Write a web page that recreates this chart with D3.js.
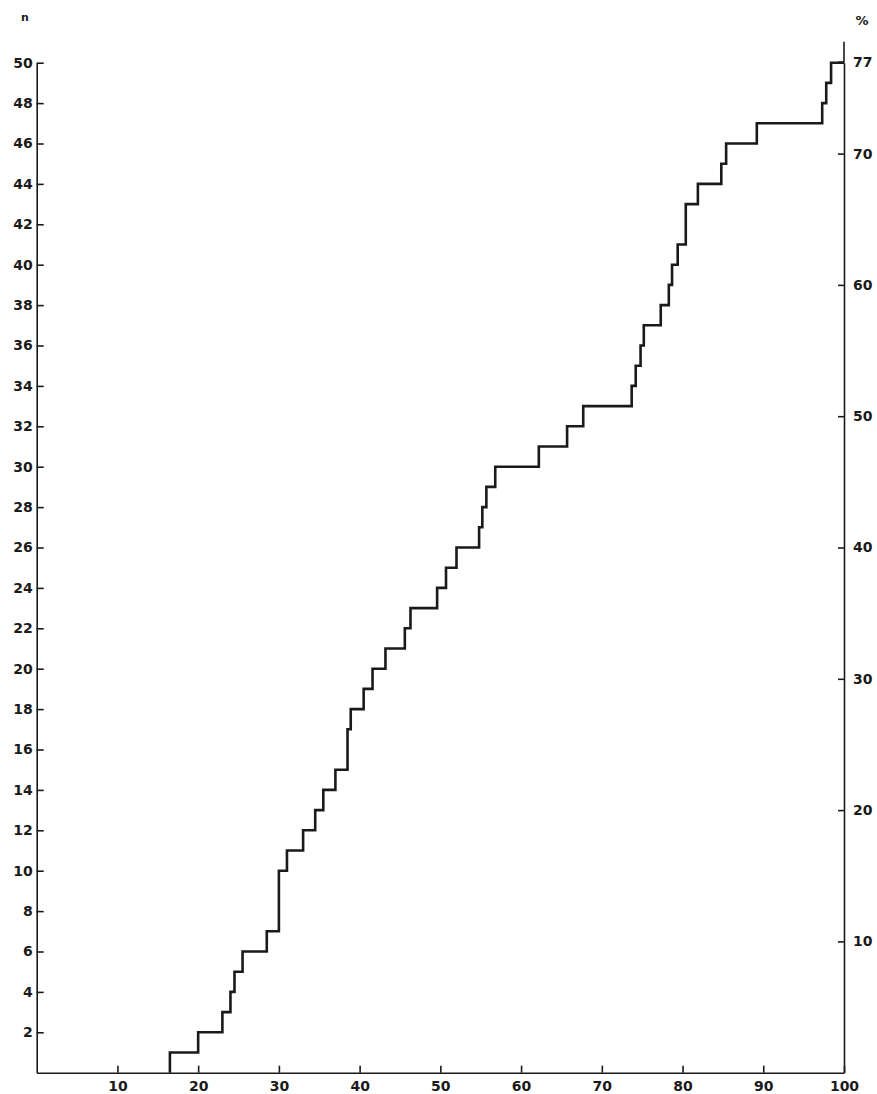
<!DOCTYPE html>
<html>
<head>
<meta charset="utf-8">
<script src="https://cdn.jsdelivr.net/npm/d3@7"></script>
<style>
  html, body { margin: 0; padding: 0; background: #ffffff; }
  svg { display: block; }
  text { font-family: "DejaVu Sans", sans-serif; font-weight: bold; fill: #1a1a1a; }
</style>
</head>
<body>
<svg id="chart" width="877" height="1094"></svg>
<script>
// x position (0-100) at which the cumulative count jumps, and the count reached there
const stepX = [16.5, 20.0, 23.0, 24.0, 24.5, 25.5, 28.5, 30.0, 31.0, 33.0,
               34.5, 35.5, 37.0, 38.5, 38.9, 40.5, 41.6, 43.2, 45.6, 46.3,
               49.6, 50.7, 52.0, 54.8, 55.2, 55.7, 56.8, 62.2, 65.7, 67.7,
               73.7, 74.2, 74.8, 75.2, 77.3, 78.3, 78.7, 79.4, 80.4, 81.9,
               84.8, 85.4, 89.2, 97.3, 97.8, 98.4];
const stepN = [1, 2, 3, 4, 5, 6, 7, 10, 11, 12,
               13, 14, 15, 17, 18, 19, 20, 21, 22, 23,
               24, 25, 26, 27, 28, 29, 30, 31, 32, 33,
               34, 35, 36, 37, 38, 39, 40, 41, 43, 44,
               45, 46, 47, 48, 49, 50];
const totalN = 65;               // 50 of 65 = 77 %
const xTicks = [10, 20, 30, 40, 50, 60, 70, 80, 90, 100];
const nTicks = [2, 4, 6, 8, 10, 12, 14, 16, 18, 20, 22, 24, 26, 28, 30,
                32, 34, 36, 38, 40, 42, 44, 46, 48, 50];
const pctTicks = [10, 20, 30, 40, 50, 60, 70, 77];
const leftTitle = "n";
const rightTitle = "%";

const svg = d3.select("#chart");
const x0 = 36.7, x1 = 844, yBottom = 1072.7, yTop = 62.7;
const x = d3.scaleLinear().domain([0, 100]).range([x0, x1]);
const y = d3.scaleLinear().domain([0, 50]).range([yBottom, yTop]);
const yp = d3.scaleLinear().domain([0, 100 * 50 / totalN]).range([yBottom, yTop]);
const ink = "#1a1a1a";
const font = '"DejaVu Sans", sans-serif';

// Left axis
const gL = svg.append("g").attr("transform", `translate(${x0},0)`)
  .call(d3.axisLeft(y).tickValues(nTicks).tickSizeInner(-7).tickSizeOuter(0).tickPadding(4));
// Bottom axis
const gB = svg.append("g").attr("transform", `translate(0,${yBottom})`)
  .call(d3.axisBottom(x).tickValues(xTicks).tickSizeInner(-7).tickSizeOuter(0).tickPadding(8));
// Right axis
const gR = svg.append("g").attr("transform", `translate(${x1},0)`)
  .call(d3.axisRight(yp).tickValues(pctTicks).tickSizeInner(-6).tickSizeOuter(0).tickPadding(9));

[gL, gB, gR].forEach(g => {
  g.select(".domain").attr("stroke", ink).attr("stroke-width", 1.6);
  g.selectAll(".tick line").attr("stroke", ink).attr("stroke-width", 1.6);
  g.selectAll(".tick text").attr("font-size", 14).attr("fill", ink)
    .style("font-family", font).style("font-weight", "bold");
});
// Right axis extends above the top tick
gR.append("line").attr("x1", 0).attr("x2", 0).attr("y1", 41.7).attr("y2", yTop)
  .attr("stroke", ink).attr("stroke-width", 1.6);

// Axis titles
svg.append("text").attr("x", 25).attr("y", 21).attr("text-anchor", "middle")
  .attr("font-size", 11).text(leftTitle);
svg.append("text").attr("x", 862).attr("y", 25).attr("text-anchor", "middle")
  .attr("font-size", 13).text(rightTitle);

// Step curve
const pts = [[stepX[0], 0]].concat(stepX.map((v, i) => [v, stepN[i]]), [[100, stepN[stepN.length - 1]]]);
const line = d3.line().x(d => x(d[0])).y(d => y(d[1])).curve(d3.curveStepAfter);
svg.append("path").datum(pts).attr("d", line)
  .attr("fill", "none").attr("stroke", ink).attr("stroke-width", 2.6)
  .attr("stroke-linejoin", "miter");
</script>
</body>
</html>
